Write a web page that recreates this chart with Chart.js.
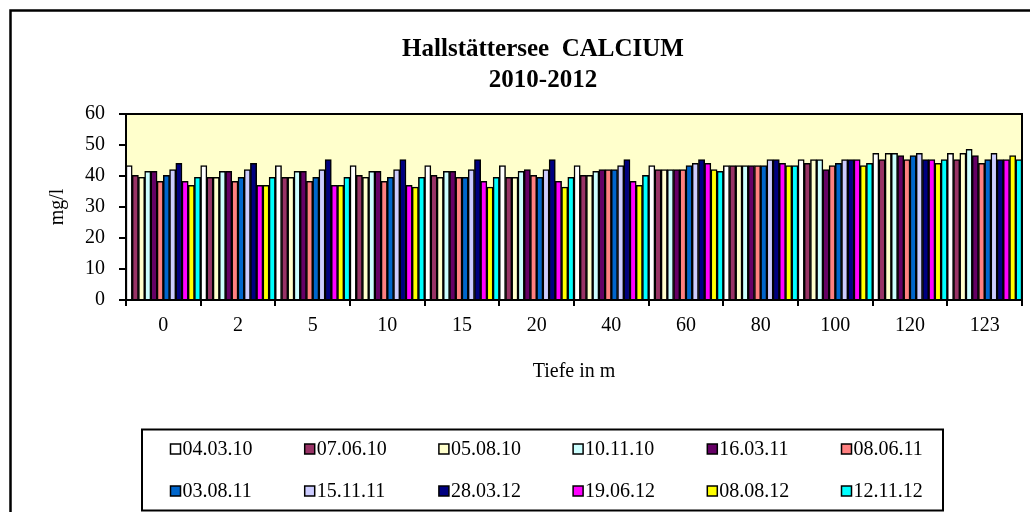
<!DOCTYPE html>
<html>
<head>
<meta charset="utf-8">
<script src="https://cdn.jsdelivr.net/npm/chart.js@4/dist/chart.umd.min.js"></script>
<style>
html,body{margin:0;padding:0;background:#ffffff;}
canvas{display:block;}
</style>
</head>
<body>
<canvas id="c" width="1030" height="512"></canvas>
<script>
// ---- data ----
const titleLines = ['Hallstättersee  CALCIUM', '2010-2012'];
const yAxisTitle = 'mg/l';
const xAxisTitle = 'Tiefe in m';
const depths = ['0', '2', '5', '10', '15', '20', '40', '60', '80', '100', '120', '123'];
const yTicks = [0, 10, 20, 30, 40, 50, 60];
const seriesLabels = ['04.03.10', '07.06.10', '05.08.10', '10.11.10', '16.03.11', '08.06.11',
                      '03.08.11', '15.11.11', '28.03.12', '19.06.12', '08.08.12', '12.11.12'];
const s040310 = [43.4, 43.4, 43.4, 43.4, 43.4, 43.4, 43.4, 43.4, 43.4, 45.3, 47.3, 47.3];
const s070610 = [40.2, 39.6, 39.6, 40.2, 40.2, 39.6, 40.2, 42.1, 43.4, 44.1, 45.3, 45.3];
const s050810 = [39.6, 39.6, 39.6, 39.6, 39.6, 39.6, 40.2, 42.1, 43.4, 45.3, 47.3, 47.3];
const s101110 = [41.5, 41.5, 41.5, 41.5, 41.5, 41.5, 41.5, 42.1, 43.4, 45.3, 47.3, 48.6];
const s160311 = [41.5, 41.5, 41.5, 41.5, 41.5, 42.1, 42.1, 42.1, 43.4, 42.1, 46.6, 46.6];
const s080611 = [38.3, 38.3, 38.3, 38.3, 39.6, 40.2, 42.1, 42.1, 43.4, 43.4, 45.3, 44.1];
const s030811 = [40.2, 39.6, 39.6, 39.6, 39.6, 39.6, 42.1, 43.4, 43.4, 44.1, 46.6, 45.3];
const s151111 = [42.1, 42.1, 42.1, 42.1, 42.1, 42.1, 43.4, 44.1, 45.3, 45.3, 47.3, 47.3];
const s280312 = [44.1, 44.1, 45.3, 45.3, 45.3, 45.3, 45.3, 45.3, 45.3, 45.3, 45.3, 45.3];
const s190612 = [38.3, 37.0, 37.0, 37.0, 38.3, 38.3, 38.3, 44.1, 44.1, 45.3, 45.3, 45.3];
const s080812 = [37.0, 37.0, 37.0, 36.4, 36.4, 36.4, 37.0, 42.1, 43.4, 43.4, 44.1, 46.6];
const s121112 = [39.6, 39.6, 39.6, 39.6, 39.6, 39.6, 40.2, 41.5, 43.4, 44.1, 45.3, 45.3];
const seriesValues = [s040310, s070610, s050810, s101110, s160311, s080611,
                      s030811, s151111, s280312, s190612, s080812, s121112];
const seriesColors = ['#FFFFFF', '#993366', '#FFFFCC', '#CCFFFF', '#660066', '#FF8080',
                      '#0066CC', '#CCCCFF', '#000080', '#FF00FF', '#FFFF00', '#00FFFF'];

// ---- styling ----
const FONT = '"Liberation Serif", "Times New Roman", Times, serif';

const datasets = seriesLabels.map((lab, i) => ({
  label: lab,
  data: seriesValues[i],
  backgroundColor: seriesColors[i],
  borderColor: '#000000',
  borderWidth: 1.5,
  borderSkipped: 'start',
  categoryPercentage: 1.0,
  barPercentage: 1.0
}));

const framePlugin = {
  id: 'frame',
  beforeDraw(chart) {
    const {ctx, chartArea: a} = chart;
    ctx.save();
    ctx.fillStyle = '#ffffff';
    ctx.fillRect(0, 0, chart.width, chart.height);
    // outer chart border (left and top visible)
    ctx.strokeStyle = '#000000';
    ctx.lineWidth = 2.5;
    ctx.beginPath();
    ctx.moveTo(10.5, chart.height + 5);
    ctx.lineTo(10.5, 10.5);
    ctx.lineTo(chart.width + 5, 10.5);
    ctx.stroke();
    // plot background
    ctx.fillStyle = '#FFFFCC';
    ctx.fillRect(a.left, a.top, a.right - a.left, a.bottom - a.top);
    ctx.restore();
  },
  afterDatasetsDraw(chart) {
    const {ctx, chartArea: a} = chart;
    ctx.save();
    ctx.strokeStyle = '#000000';
    ctx.lineWidth = 2;
    ctx.strokeRect(a.left, a.top, a.right - a.left, a.bottom - a.top);
    ctx.restore();
  },
  afterDraw(chart) {
    // legend box
    const {ctx} = chart;
    ctx.save();
    ctx.strokeStyle = '#000000';
    ctx.lineWidth = 2;
    ctx.strokeRect(142, 429.5, 801, 81);
    ctx.font = '20px ' + FONT;
    ctx.textBaseline = 'middle';
    ctx.textAlign = 'left';
    chart.data.datasets.forEach((ds, i) => {
      const col = i % 6, row = Math.floor(i / 6);
      const x = 170.5 + col * 134.2;
      const y = row === 0 ? 449 : 491;
      ctx.fillStyle = ds.backgroundColor;
      ctx.fillRect(x, y - 5, 10, 10);
      ctx.lineWidth = 1.5;
      ctx.strokeStyle = '#000000';
      ctx.strokeRect(x, y - 5, 10, 10);
      ctx.fillStyle = '#000000';
      ctx.fillText(ds.label, x + 12, y + 1);
    });
    ctx.restore();
  }
};

new Chart(document.getElementById('c'), {
  type: 'bar',
  data: { labels: depths, datasets: datasets },
  plugins: [framePlugin],
  options: {
    responsive: false,
    animation: false,
    devicePixelRatio: 1,
    layout: { padding: { left: 64, right: 8, top: 0, bottom: 128 } },
    plugins: {
      legend: { display: false },
      tooltip: { enabled: false },
      title: {
        display: true,
        text: titleLines,
        color: '#000000',
        font: { family: FONT, size: 25, weight: 'bold', lineHeight: 1.24 },
        padding: { top: 34, bottom: 18 }
      }
    },
    scales: {
      x: {
        offset: true,
        grid: {
          offset: true,
          drawOnChartArea: false,
          drawTicks: true,
          tickLength: 6,
          color: '#000000',
          lineWidth: 2
        },
        border: { display: true, color: '#000000', width: 2 },
        ticks: {
          color: '#000000',
          font: { family: FONT, size: 20, lineHeight: 1.2 },
          padding: 8,
          maxRotation: 0,
          autoSkip: false
        },
        title: {
          display: true,
          text: xAxisTitle,
          color: '#000000',
          font: { family: FONT, size: 20, lineHeight: 1.2 },
          padding: { top: 0, bottom: 0 }
        },
        afterFit(scale) { scale.height = 84; }
      },
      y: {
        min: 0,
        max: 60,
        afterBuildTicks(scale) { scale.ticks = yTicks.map(v => ({ value: v })); },
        grid: {
          drawOnChartArea: false,
          drawTicks: true,
          tickLength: 7,
          color: '#000000',
          lineWidth: 2
        },
        border: { display: true, color: '#000000', width: 2 },
        ticks: {
          color: '#000000',
          font: { family: FONT, size: 20, lineHeight: 1.2 },
          padding: 14
        },
        title: {
          display: true,
          text: yAxisTitle,
          color: '#000000',
          font: { family: FONT, size: 20, lineHeight: 1.2 },
          padding: { top: -18, bottom: 0 }
        },
        afterFit(scale) { scale.width = 62; }
      }
    }
  }
});
</script>
</body>
</html>
